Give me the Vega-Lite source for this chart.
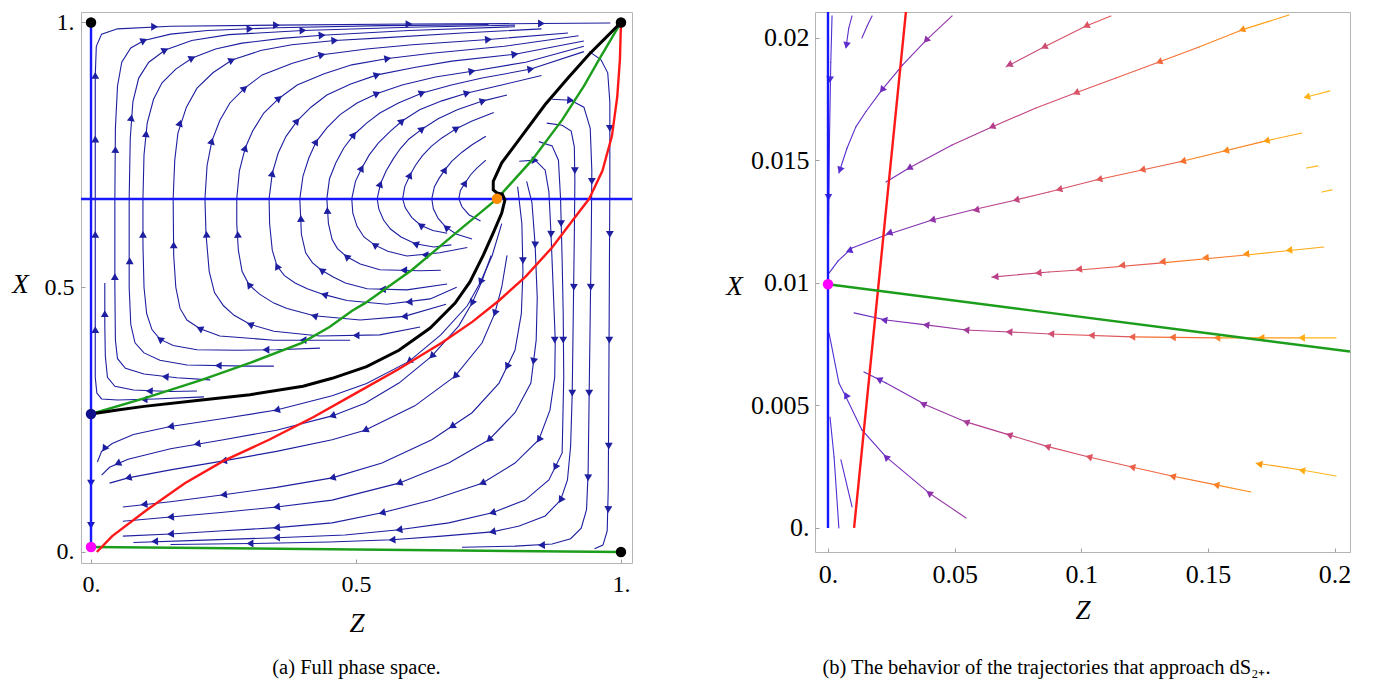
{
"$schema": "https://vega.github.io/schema/vega-lite/v6.json",
"background": "white",
"padding": {"left": 11, "top": 9, "right": 5, "bottom": 5},
"spacing": 92,
"config": {
 "view": {"stroke": "#b4b4b4", "strokeWidth": 1},
 "font": "Liberation Serif",
 "axis": {"grid": false, "domain": false, "tickColor": "#a0a0a0", "tickSize": -4, "labelFont": "Liberation Serif", "labelColor": "#000000", "titleFont": "Liberation Serif", "titleFontStyle": "italic", "titleFontWeight": "normal", "titleColor": "#000000", "titleAngle": 0, "titleAlign": "center", "titleBaseline": "middle"},
 "title": {"font": "Liberation Serif", "fontWeight": "normal", "fontSize": 20.5, "color": "#000000", "orient": "bottom"}
},
"datasets": {
 "sl": [
{"l":"A1","z":0.213,"x":0.293},{"l":"A1","z":0.12,"x":0.289},{"l":"A1","z":0.05,"x":0.287},{"l":"A1","z":0.02,"x":0.289},{"l":"A1","z":0.011,"x":0.3},{"l":"A1","z":0.008,"x":0.33},{"l":"A1","z":0.008,"x":0.5},{"l":"A1","z":0.008,"x":0.7},{"l":"A1","z":0.008,"x":0.9},{"l":"A1","z":0.01,"x":0.955},{"l":"A1","z":0.02,"x":0.978},{"l":"A1","z":0.05,"x":0.988},{"l":"A1","z":0.15,"x":0.993},{"l":"A1","z":0.35,"x":0.995},{"l":"A1","z":0.6,"x":0.997},{"l":"A1","z":0.85,"x":0.998},{"l":"A1","z":0.98,"x":0.999},
{"l":"A2","z":0.2,"x":0.304},{"l":"A2","z":0.149,"x":0.303},{"l":"A2","z":0.08,"x":0.306},{"l":"A2","z":0.045,"x":0.313},{"l":"A2","z":0.031,"x":0.33},{"l":"A2","z":0.027,"x":0.37},{"l":"A2","z":0.026,"x":0.43},{"l":"A2","z":0.026,"x":0.508},
{"l":"A3","z":0.225,"x":0.325},{"l":"A3","z":0.162,"x":0.329},{"l":"A3","z":0.1,"x":0.336},{"l":"A3","z":0.065,"x":0.347},{"l":"A3","z":0.05,"x":0.365},{"l":"A3","z":0.046,"x":0.4},{"l":"A3","z":0.045,"x":0.5},{"l":"A3","z":0.045,"x":0.667},{"l":"A3","z":0.046,"x":0.8},{"l":"A3","z":0.05,"x":0.88},{"l":"A3","z":0.058,"x":0.925},{"l":"A3","z":0.075,"x":0.952},{"l":"A3","z":0.1,"x":0.966},{"l":"A3","z":0.15,"x":0.978},{"l":"A3","z":0.22,"x":0.985},{"l":"A3","z":0.35,"x":0.99},{"l":"A3","z":0.55,"x":0.994},{"l":"A3","z":0.75,"x":0.996},
{"l":"A4","z":0.345,"x":0.351},{"l":"A4","z":0.294,"x":0.351},{"l":"A4","z":0.181,"x":0.353},{"l":"A4","z":0.13,"x":0.362},{"l":"A4","z":0.1,"x":0.376},{"l":"A4","z":0.083,"x":0.395},{"l":"A4","z":0.075,"x":0.43},{"l":"A4","z":0.072,"x":0.5},{"l":"A4","z":0.072,"x":0.667},{"l":"A4","z":0.074,"x":0.78},{"l":"A4","z":0.079,"x":0.85},{"l":"A4","z":0.09,"x":0.895},{"l":"A4","z":0.109,"x":0.925},{"l":"A4","z":0.14,"x":0.948},{"l":"A4","z":0.19,"x":0.966},{"l":"A4","z":0.26,"x":0.977},{"l":"A4","z":0.4,"x":0.985},{"l":"A4","z":0.6,"x":0.991},{"l":"A4","z":0.8,"x":0.995},
{"l":"A5","z":0.432,"x":0.385},{"l":"A5","z":0.35,"x":0.382},{"l":"A5","z":0.275,"x":0.381},{"l":"A5","z":0.2,"x":0.382},{"l":"A5","z":0.155,"x":0.39},{"l":"A5","z":0.13,"x":0.402},{"l":"A5","z":0.115,"x":0.42},{"l":"A5","z":0.105,"x":0.45},{"l":"A5","z":0.1,"x":0.5},{"l":"A5","z":0.098,"x":0.58},{"l":"A5","z":0.098,"x":0.667},{"l":"A5","z":0.1,"x":0.75},{"l":"A5","z":0.106,"x":0.81},{"l":"A5","z":0.118,"x":0.855},{"l":"A5","z":0.134,"x":0.886},{"l":"A5","z":0.16,"x":0.912},{"l":"A5","z":0.191,"x":0.933},{"l":"A5","z":0.235,"x":0.95},{"l":"A5","z":0.285,"x":0.961},{"l":"A5","z":0.36,"x":0.97},{"l":"A5","z":0.436,"x":0.976},{"l":"A5","z":0.6,"x":0.985},{"l":"A5","z":0.8,"x":0.992},
{"l":"A6","z":0.489,"x":0.4},{"l":"A6","z":0.4,"x":0.4},{"l":"A6","z":0.345,"x":0.4},{"l":"A6","z":0.243,"x":0.408},{"l":"A6","z":0.205,"x":0.422},{"l":"A6","z":0.181,"x":0.438},{"l":"A6","z":0.168,"x":0.46},{"l":"A6","z":0.16,"x":0.5},{"l":"A6","z":0.156,"x":0.56},{"l":"A6","z":0.155,"x":0.667},{"l":"A6","z":0.158,"x":0.74},{"l":"A6","z":0.164,"x":0.791},{"l":"A6","z":0.18,"x":0.84},{"l":"A6","z":0.2,"x":0.876},{"l":"A6","z":0.23,"x":0.905},{"l":"A6","z":0.266,"x":0.929},{"l":"A6","z":0.32,"x":0.947},{"l":"A6","z":0.379,"x":0.958},{"l":"A6","z":0.46,"x":0.966},{"l":"A6","z":0.549,"x":0.971},{"l":"A6","z":0.7,"x":0.98},{"l":"A6","z":0.85,"x":0.988},
{"l":"A7","z":0.621,"x":0.425},{"l":"A7","z":0.545,"x":0.41},{"l":"A7","z":0.432,"x":0.408},{"l":"A7","z":0.345,"x":0.417},{"l":"A7","z":0.3,"x":0.43},{"l":"A7","z":0.27,"x":0.447},{"l":"A7","z":0.25,"x":0.465},{"l":"A7","z":0.233,"x":0.49},{"l":"A7","z":0.223,"x":0.53},{"l":"A7","z":0.217,"x":0.6},{"l":"A7","z":0.215,"x":0.667},{"l":"A7","z":0.219,"x":0.73},{"l":"A7","z":0.228,"x":0.776},{"l":"A7","z":0.243,"x":0.815},{"l":"A7","z":0.262,"x":0.848},{"l":"A7","z":0.29,"x":0.876},{"l":"A7","z":0.323,"x":0.901},{"l":"A7","z":0.38,"x":0.923},{"l":"A7","z":0.436,"x":0.939},{"l":"A7","z":0.52,"x":0.95},{"l":"A7","z":0.606,"x":0.958},{"l":"A7","z":0.75,"x":0.968},{"l":"A7","z":0.9,"x":0.98},
{"l":"A8","z":0.67,"x":0.468},{"l":"A8","z":0.591,"x":0.445},{"l":"A8","z":0.508,"x":0.438},{"l":"A8","z":0.421,"x":0.446},{"l":"A8","z":0.37,"x":0.46},{"l":"A8","z":0.345,"x":0.47},{"l":"A8","z":0.318,"x":0.487},{"l":"A8","z":0.298,"x":0.505},{"l":"A8","z":0.285,"x":0.53},{"l":"A8","z":0.278,"x":0.57},{"l":"A8","z":0.275,"x":0.62},{"l":"A8","z":0.275,"x":0.667},{"l":"A8","z":0.28,"x":0.72},{"l":"A8","z":0.291,"x":0.763},{"l":"A8","z":0.305,"x":0.795},{"l":"A8","z":0.326,"x":0.829},{"l":"A8","z":0.355,"x":0.857},{"l":"A8","z":0.389,"x":0.882},{"l":"A8","z":0.44,"x":0.903},{"l":"A8","z":0.492,"x":0.92},{"l":"A8","z":0.56,"x":0.932},{"l":"A8","z":0.643,"x":0.942},{"l":"A8","z":0.78,"x":0.955},{"l":"A8","z":0.92,"x":0.975},
{"l":"A9","z":0.69,"x":0.5},{"l":"A9","z":0.64,"x":0.478},{"l":"A9","z":0.558,"x":0.468},{"l":"A9","z":0.483,"x":0.475},{"l":"A9","z":0.44,"x":0.486},{"l":"A9","z":0.408,"x":0.497},{"l":"A9","z":0.385,"x":0.508},{"l":"A9","z":0.365,"x":0.522},{"l":"A9","z":0.351,"x":0.54},{"l":"A9","z":0.342,"x":0.57},{"l":"A9","z":0.337,"x":0.62},{"l":"A9","z":0.336,"x":0.667},{"l":"A9","z":0.342,"x":0.715},{"l":"A9","z":0.353,"x":0.753},{"l":"A9","z":0.368,"x":0.785},{"l":"A9","z":0.389,"x":0.814},{"l":"A9","z":0.415,"x":0.84},{"l":"A9","z":0.445,"x":0.863},{"l":"A9","z":0.49,"x":0.884},{"l":"A9","z":0.54,"x":0.901},{"l":"A9","z":0.61,"x":0.915},{"l":"A9","z":0.681,"x":0.927},{"l":"A9","z":0.8,"x":0.94},{"l":"A9","z":0.93,"x":0.965},
{"l":"A10","z":0.672,"x":0.506},{"l":"A10","z":0.596,"x":0.495},{"l":"A10","z":0.521,"x":0.497},{"l":"A10","z":0.48,"x":0.508},{"l":"A10","z":0.458,"x":0.519},{"l":"A10","z":0.435,"x":0.532},{"l":"A10","z":0.418,"x":0.546},{"l":"A10","z":0.405,"x":0.565},{"l":"A10","z":0.397,"x":0.6},{"l":"A10","z":0.394,"x":0.667},{"l":"A10","z":0.4,"x":0.71},{"l":"A10","z":0.411,"x":0.744},{"l":"A10","z":0.425,"x":0.775},{"l":"A10","z":0.445,"x":0.801},{"l":"A10","z":0.47,"x":0.826},{"l":"A10","z":0.502,"x":0.848},{"l":"A10","z":0.54,"x":0.866},{"l":"A10","z":0.587,"x":0.882},{"l":"A10","z":0.65,"x":0.897},{"l":"A10","z":0.719,"x":0.908},{"l":"A10","z":0.82,"x":0.925},{"l":"A10","z":0.93,"x":0.955},
{"l":"A11","z":0.66,"x":0.532},{"l":"A11","z":0.621,"x":0.531},{"l":"A11","z":0.545,"x":0.533},{"l":"A11","z":0.508,"x":0.544},{"l":"A11","z":0.482,"x":0.558},{"l":"A11","z":0.465,"x":0.573},{"l":"A11","z":0.455,"x":0.59},{"l":"A11","z":0.448,"x":0.62},{"l":"A11","z":0.445,"x":0.667},{"l":"A11","z":0.45,"x":0.705},{"l":"A11","z":0.462,"x":0.735},{"l":"A11","z":0.477,"x":0.763},{"l":"A11","z":0.496,"x":0.788},{"l":"A11","z":0.52,"x":0.81},{"l":"A11","z":0.545,"x":0.829},{"l":"A11","z":0.58,"x":0.848},{"l":"A11","z":0.625,"x":0.867},{"l":"A11","z":0.68,"x":0.882},{"l":"A11","z":0.738,"x":0.895},{"l":"A11","z":0.83,"x":0.912},{"l":"A11","z":0.93,"x":0.945},
{"l":"A12","z":0.71,"x":0.575},{"l":"A12","z":0.658,"x":0.565},{"l":"A12","z":0.596,"x":0.559},{"l":"A12","z":0.56,"x":0.568},{"l":"A12","z":0.535,"x":0.58},{"l":"A12","z":0.515,"x":0.595},{"l":"A12","z":0.502,"x":0.615},{"l":"A12","z":0.494,"x":0.64},{"l":"A12","z":0.492,"x":0.667},{"l":"A12","z":0.499,"x":0.7},{"l":"A12","z":0.511,"x":0.725},{"l":"A12","z":0.525,"x":0.75},{"l":"A12","z":0.542,"x":0.772},{"l":"A12","z":0.565,"x":0.795},{"l":"A12","z":0.587,"x":0.814},{"l":"A12","z":0.62,"x":0.835},{"l":"A12","z":0.662,"x":0.852},{"l":"A12","z":0.71,"x":0.867},{"l":"A12","z":0.775,"x":0.882},{"l":"A12","z":0.85,"x":0.9},
{"l":"A13","z":0.68,"x":0.58},{"l":"A13","z":0.647,"x":0.576},{"l":"A13","z":0.612,"x":0.582},{"l":"A13","z":0.585,"x":0.595},{"l":"A13","z":0.565,"x":0.61},{"l":"A13","z":0.552,"x":0.627},{"l":"A13","z":0.543,"x":0.648},{"l":"A13","z":0.54,"x":0.667},{"l":"A13","z":0.546,"x":0.695},{"l":"A13","z":0.557,"x":0.72},{"l":"A13","z":0.57,"x":0.742},{"l":"A13","z":0.583,"x":0.761},{"l":"A13","z":0.6,"x":0.78},{"l":"A13","z":0.625,"x":0.799},{"l":"A13","z":0.655,"x":0.818},{"l":"A13","z":0.691,"x":0.835},{"l":"A13","z":0.74,"x":0.852},{"l":"A13","z":0.785,"x":0.863},
{"l":"A14","z":0.672,"x":0.602},{"l":"A14","z":0.645,"x":0.607},{"l":"A14","z":0.622,"x":0.617},{"l":"A14","z":0.605,"x":0.632},{"l":"A14","z":0.593,"x":0.65},{"l":"A14","z":0.588,"x":0.667},{"l":"A14","z":0.592,"x":0.69},{"l":"A14","z":0.602,"x":0.712},{"l":"A14","z":0.612,"x":0.73},{"l":"A14","z":0.625,"x":0.748},{"l":"A14","z":0.642,"x":0.766},{"l":"A14","z":0.662,"x":0.782},{"l":"A14","z":0.69,"x":0.8},{"l":"A14","z":0.719,"x":0.814},{"l":"A14","z":0.76,"x":0.83},
{"l":"A15","z":0.719,"x":0.591},{"l":"A15","z":0.69,"x":0.6},{"l":"A15","z":0.67,"x":0.613},{"l":"A15","z":0.655,"x":0.63},{"l":"A15","z":0.646,"x":0.648},{"l":"A15","z":0.643,"x":0.667},{"l":"A15","z":0.648,"x":0.69},{"l":"A15","z":0.657,"x":0.706},{"l":"A15","z":0.668,"x":0.722},{"l":"A15","z":0.681,"x":0.738},{"l":"A15","z":0.7,"x":0.755},{"l":"A15","z":0.719,"x":0.769},{"l":"A15","z":0.745,"x":0.785},
{"l":"A16","z":0.735,"x":0.625},{"l":"A16","z":0.713,"x":0.637},{"l":"A16","z":0.7,"x":0.652},{"l":"A16","z":0.694,"x":0.667},{"l":"A16","z":0.697,"x":0.683},{"l":"A16","z":0.706,"x":0.697},{"l":"A16","z":0.716,"x":0.712},{"l":"A16","z":0.728,"x":0.725},{"l":"A16","z":0.745,"x":0.74},
{"l":"D0","z":0.94,"x":0.945},{"l":"D0","z":0.962,"x":0.93},{"l":"D0","z":0.975,"x":0.905},{"l":"D0","z":0.979,"x":0.85},{"l":"D0","z":0.979,"x":0.7},{"l":"D0","z":0.978,"x":0.5},{"l":"D0","z":0.977,"x":0.3},{"l":"D0","z":0.976,"x":0.12},{"l":"D0","z":0.974,"x":0.04},{"l":"D0","z":0.966,"x":0.013},{"l":"D0","z":0.95,"x":0.006},
{"l":"D1","z":0.87,"x":0.855},{"l":"D1","z":0.905,"x":0.853},{"l":"D1","z":0.93,"x":0.84},{"l":"D1","z":0.942,"x":0.8},{"l":"D1","z":0.945,"x":0.72},{"l":"D1","z":0.944,"x":0.6},{"l":"D1","z":0.942,"x":0.45},{"l":"D1","z":0.94,"x":0.3},{"l":"D1","z":0.938,"x":0.15},{"l":"D1","z":0.935,"x":0.08},{"l":"D1","z":0.925,"x":0.045},{"l":"D1","z":0.905,"x":0.025},{"l":"D1","z":0.87,"x":0.015},{"l":"D1","z":0.8,"x":0.011},{"l":"D1","z":0.7,"x":0.009},
{"l":"D2","z":0.86,"x":0.81},{"l":"D2","z":0.889,"x":0.806},{"l":"D2","z":0.906,"x":0.795},{"l":"D2","z":0.912,"x":0.765},{"l":"D2","z":0.913,"x":0.7},{"l":"D2","z":0.912,"x":0.6},{"l":"D2","z":0.91,"x":0.45},{"l":"D2","z":0.908,"x":0.3},{"l":"D2","z":0.905,"x":0.2},{"l":"D2","z":0.899,"x":0.136},{"l":"D2","z":0.886,"x":0.098},{"l":"D2","z":0.857,"x":0.068},{"l":"D2","z":0.808,"x":0.049},{"l":"D2","z":0.757,"x":0.038},{"l":"D2","z":0.662,"x":0.03},{"l":"D2","z":0.568,"x":0.023},{"l":"D2","z":0.45,"x":0.019},{"l":"D2","z":0.3,"x":0.016},{"l":"D2","z":0.15,"x":0.014},
{"l":"D3","z":0.845,"x":0.775},{"l":"D3","z":0.87,"x":0.767},{"l":"D3","z":0.882,"x":0.74},{"l":"D3","z":0.886,"x":0.667},{"l":"D3","z":0.889,"x":0.55},{"l":"D3","z":0.891,"x":0.45},{"l":"D3","z":0.892,"x":0.33},{"l":"D3","z":0.889,"x":0.187},{"l":"D3","z":0.864,"x":0.136},{"l":"D3","z":0.819,"x":0.098},{"l":"D3","z":0.757,"x":0.074},{"l":"D3","z":0.675,"x":0.055},{"l":"D3","z":0.581,"x":0.042},{"l":"D3","z":0.479,"x":0.032},{"l":"D3","z":0.35,"x":0.027},{"l":"D3","z":0.2,"x":0.022},{"l":"D3","z":0.08,"x":0.018},
{"l":"D4","z":0.808,"x":0.738},{"l":"D4","z":0.838,"x":0.74},{"l":"D4","z":0.857,"x":0.721},{"l":"D4","z":0.864,"x":0.68},{"l":"D4","z":0.868,"x":0.6},{"l":"D4","z":0.872,"x":0.5},{"l":"D4","z":0.876,"x":0.4},{"l":"D4","z":0.875,"x":0.33},{"l":"D4","z":0.866,"x":0.268},{"l":"D4","z":0.845,"x":0.212},{"l":"D4","z":0.8,"x":0.168},{"l":"D4","z":0.738,"x":0.13},{"l":"D4","z":0.643,"x":0.098},{"l":"D4","z":0.549,"x":0.074},{"l":"D4","z":0.455,"x":0.055},{"l":"D4","z":0.35,"x":0.046},{"l":"D4","z":0.25,"x":0.04},{"l":"D4","z":0.15,"x":0.034},{"l":"D4","z":0.06,"x":0.03},
{"l":"D5","z":0.822,"x":0.7},{"l":"D5","z":0.832,"x":0.66},{"l":"D5","z":0.838,"x":0.58},{"l":"D5","z":0.842,"x":0.48},{"l":"D5","z":0.84,"x":0.4},{"l":"D5","z":0.83,"x":0.319},{"l":"D5","z":0.8,"x":0.263},{"l":"D5","z":0.751,"x":0.212},{"l":"D5","z":0.675,"x":0.168},{"l":"D5","z":0.581,"x":0.13},{"l":"D5","z":0.455,"x":0.098},{"l":"D5","z":0.35,"x":0.085},{"l":"D5","z":0.25,"x":0.075},{"l":"D5","z":0.15,"x":0.066},{"l":"D5","z":0.06,"x":0.058},
{"l":"D6","z":0.805,"x":0.69},{"l":"D6","z":0.813,"x":0.62},{"l":"D6","z":0.815,"x":0.53},{"l":"D6","z":0.812,"x":0.45},{"l":"D6","z":0.8,"x":0.381},{"l":"D6","z":0.77,"x":0.319},{"l":"D6","z":0.719,"x":0.263},{"l":"D6","z":0.643,"x":0.212},{"l":"D6","z":0.549,"x":0.168},{"l":"D6","z":0.455,"x":0.14},{"l":"D6","z":0.35,"x":0.122},{"l":"D6","z":0.25,"x":0.108},{"l":"D6","z":0.15,"x":0.095},{"l":"D6","z":0.06,"x":0.085},
{"l":"D7","z":0.785,"x":0.56},{"l":"D7","z":0.775,"x":0.5},{"l":"D7","z":0.762,"x":0.451},{"l":"D7","z":0.738,"x":0.395},{"l":"D7","z":0.687,"x":0.332},{"l":"D7","z":0.611,"x":0.276},{"l":"D7","z":0.517,"x":0.23},{"l":"D7","z":0.455,"x":0.212},{"l":"D7","z":0.35,"x":0.19},{"l":"D7","z":0.25,"x":0.172},{"l":"D7","z":0.15,"x":0.155},{"l":"D7","z":0.07,"x":0.14},{"l":"D7","z":0.035,"x":0.13},
{"l":"D8","z":0.755,"x":0.56},{"l":"D8","z":0.737,"x":0.51},{"l":"D8","z":0.719,"x":0.47},{"l":"D8","z":0.694,"x":0.427},{"l":"D8","z":0.643,"x":0.37},{"l":"D8","z":0.581,"x":0.319},{"l":"D8","z":0.517,"x":0.281},{"l":"D8","z":0.455,"x":0.257},{"l":"D8","z":0.35,"x":0.23},{"l":"D8","z":0.25,"x":0.212},{"l":"D8","z":0.15,"x":0.195},{"l":"D8","z":0.07,"x":0.175},{"l":"D8","z":0.035,"x":0.16},{"l":"D8","z":0.02,"x":0.145},
{"l":"D9","z":0.775,"x":0.62},{"l":"D9","z":0.757,"x":0.56},{"l":"D9","z":0.735,"x":0.51},{"l":"D9","z":0.71,"x":0.465},{"l":"D9","z":0.66,"x":0.41},{"l":"D9","z":0.6,"x":0.36},{"l":"D9","z":0.52,"x":0.318},{"l":"D9","z":0.455,"x":0.295},{"l":"D9","z":0.35,"x":0.268},{"l":"D9","z":0.25,"x":0.252},{"l":"D9","z":0.15,"x":0.237},{"l":"D9","z":0.08,"x":0.222},{"l":"D9","z":0.04,"x":0.205},{"l":"D9","z":0.02,"x":0.19},{"l":"D9","z":0.012,"x":0.17}
 ],
 "ar": [
{"z":0.1,"x":0.288,"d":178},{"z":0.008,"x":0.42,"d":270},{"z":0.008,"x":0.6,"d":270},{"z":0.008,"x":0.78,"d":270},{"z":0.008,"x":0.9,"d":270},{"z":0.12,"x":0.992,"d":0},{"z":0.35,"x":0.995,"d":0},{"z":0.6,"x":0.997,"d":0},{"z":0.85,"x":0.998,"d":0},
{"z":0.11,"x":0.304,"d":182},{"z":0.026,"x":0.45,"d":270},
{"z":0.14,"x":0.331,"d":184},{"z":0.045,"x":0.52,"d":270},{"z":0.046,"x":0.76,"d":272},{"z":0.1,"x":0.966,"d":335},{"z":0.3,"x":0.988,"d":358},
{"z":0.24,"x":0.352,"d":180},{"z":0.073,"x":0.55,"d":270},{"z":0.076,"x":0.82,"d":278},{"z":0.14,"x":0.948,"d":333},{"z":0.4,"x":0.985,"d":357},
{"z":0.33,"x":0.382,"d":180},{"z":0.13,"x":0.402,"d":217},{"z":0.098,"x":0.6,"d":270},{"z":0.104,"x":0.79,"d":276},{"z":0.191,"x":0.933,"d":333},{"z":0.436,"x":0.976,"d":355},
{"z":0.4,"x":0.4,"d":180},{"z":0.205,"x":0.422,"d":206},{"z":0.156,"x":0.58,"d":270},{"z":0.168,"x":0.81,"d":288},{"z":0.266,"x":0.929,"d":335},{"z":0.46,"x":0.966,"d":355},
{"z":0.5,"x":0.409,"d":180},{"z":0.3,"x":0.43,"d":202},{"z":0.218,"x":0.6,"d":268},{"z":0.228,"x":0.776,"d":286},{"z":0.29,"x":0.876,"d":319},{"z":0.436,"x":0.939,"d":345},{"z":0.75,"x":0.968,"d":355},
{"z":0.591,"x":0.445,"d":175},{"z":0.421,"x":0.446,"d":195},{"z":0.298,"x":0.505,"d":232},{"z":0.277,"x":0.6,"d":267},{"z":0.291,"x":0.763,"d":288},{"z":0.355,"x":0.857,"d":322},{"z":0.56,"x":0.932,"d":350},
{"z":0.6,"x":0.472,"d":175},{"z":0.44,"x":0.486,"d":196},{"z":0.351,"x":0.54,"d":244},{"z":0.342,"x":0.715,"d":280},{"z":0.389,"x":0.814,"d":310},{"z":0.54,"x":0.901,"d":340},{"z":0.8,"x":0.94,"d":352},
{"z":0.55,"x":0.496,"d":180},{"z":0.435,"x":0.532,"d":215},{"z":0.396,"x":0.63,"d":268},{"z":0.425,"x":0.775,"d":301},{"z":0.54,"x":0.866,"d":335},{"z":0.719,"x":0.908,"d":350},
{"z":0.59,"x":0.532,"d":180},{"z":0.482,"x":0.558,"d":220},{"z":0.446,"x":0.645,"d":267},{"z":0.496,"x":0.788,"d":307},{"z":0.625,"x":0.867,"d":337},{"z":0.83,"x":0.912,"d":350},
{"z":0.63,"x":0.561,"d":183},{"z":0.535,"x":0.58,"d":215},{"z":0.511,"x":0.725,"d":298},{"z":0.587,"x":0.814,"d":318},{"z":0.71,"x":0.867,"d":343},
{"z":0.612,"x":0.582,"d":200},{"z":0.546,"x":0.695,"d":290},{"z":0.625,"x":0.799,"d":322},{"z":0.74,"x":0.852,"d":342},
{"z":0.622,"x":0.617,"d":215},{"z":0.602,"x":0.712,"d":295},{"z":0.69,"x":0.8,"d":328},
{"z":0.67,"x":0.613,"d":220},{"z":0.668,"x":0.722,"d":300},
{"z":0.706,"x":0.697,"d":300},
{"z":0.979,"x":0.8,"d":90},{"z":0.979,"x":0.6,"d":90},{"z":0.978,"x":0.4,"d":90},{"z":0.977,"x":0.2,"d":90},{"z":0.976,"x":0.08,"d":92},
{"z":0.905,"x":0.853,"d":5},{"z":0.945,"x":0.7,"d":90},{"z":0.943,"x":0.5,"d":91},{"z":0.94,"x":0.3,"d":91},{"z":0.938,"x":0.14,"d":92},{"z":0.85,"x":0.013,"d":178},
{"z":0.913,"x":0.72,"d":90},{"z":0.911,"x":0.5,"d":91},{"z":0.908,"x":0.3,"d":91},{"z":0.886,"x":0.098,"d":122},{"z":0.757,"x":0.038,"d":168},{"z":0.568,"x":0.023,"d":176},{"z":0.3,"x":0.016,"d":179},
{"z":0.887,"x":0.62,"d":90},{"z":0.891,"x":0.4,"d":90},{"z":0.876,"x":0.16,"d":116},{"z":0.757,"x":0.074,"d":163},{"z":0.581,"x":0.042,"d":172},{"z":0.35,"x":0.027,"d":177},{"z":0.12,"x":0.02,"d":178},
{"z":0.838,"x":0.74,"d":0},{"z":0.868,"x":0.6,"d":92},{"z":0.875,"x":0.4,"d":90},{"z":0.845,"x":0.212,"d":123},{"z":0.738,"x":0.13,"d":156},{"z":0.549,"x":0.074,"d":166},{"z":0.35,"x":0.046,"d":174},{"z":0.15,"x":0.034,"d":177},
{"z":0.838,"x":0.58,"d":93},{"z":0.835,"x":0.36,"d":100},{"z":0.751,"x":0.212,"d":137},{"z":0.581,"x":0.13,"d":158},{"z":0.35,"x":0.085,"d":172},{"z":0.15,"x":0.066,"d":175},
{"z":0.815,"x":0.55,"d":90},{"z":0.785,"x":0.35,"d":117},{"z":0.681,"x":0.237,"d":147},{"z":0.455,"x":0.14,"d":165},{"z":0.25,"x":0.108,"d":172},{"z":0.1,"x":0.09,"d":174},
{"z":0.762,"x":0.451,"d":108},{"z":0.687,"x":0.332,"d":133},{"z":0.517,"x":0.23,"d":155},{"z":0.25,"x":0.172,"d":170},{"z":0.07,"x":0.14,"d":165},
{"z":0.719,"x":0.47,"d":115},{"z":0.643,"x":0.37,"d":135},{"z":0.455,"x":0.257,"d":160},{"z":0.2,"x":0.204,"d":170},{"z":0.05,"x":0.167,"d":155},
{"z":0.735,"x":0.51,"d":115},{"z":0.6,"x":0.36,"d":143},{"z":0.35,"x":0.268,"d":166},{"z":0.15,"x":0.237,"d":172},{"z":0.025,"x":0.195,"d":125},
{"z":0,"x":0.13,"d":90},{"z":0,"x":0.05,"d":90}
 ],
 "sp": [
{"k":"b1","z":0,"x":0.0094},{"k":"b1","z":0,"x":1},
{"k":"b2","z":-0.0189,"x":0.6667},{"k":"b2","z":1.0208,"x":0.6667},
{"k":"g1","z":0,"x":0.2606},{"k":"g1","z":0.1,"x":0.29},{"k":"g1","z":0.209,"x":0.325},{"k":"g1","z":0.3,"x":0.357},{"k":"g1","z":0.398,"x":0.395},{"k":"g1","z":0.45,"x":0.425},{"k":"g1","z":0.492,"x":0.455},{"k":"g1","z":0.517,"x":0.47},{"k":"g1","z":0.606,"x":0.533},{"k":"g1","z":0.7,"x":0.612},{"k":"g1","z":0.766,"x":0.667},{"k":"g1","z":0.832,"x":0.74},{"k":"g1","z":0.889,"x":0.816},{"k":"g1","z":0.93,"x":0.88},{"k":"g1","z":0.958,"x":0.929},{"k":"g1","z":1,"x":1},
{"k":"g2","z":0,"x":0.0094},{"k":"g2","z":1,"x":0},
{"k":"r","z":0.011,"x":0},{"k":"r","z":0.04,"x":0.03},{"k":"r","z":0.102,"x":0.077},{"k":"r","z":0.177,"x":0.13},{"k":"r","z":0.25,"x":0.172},{"k":"r","z":0.336,"x":0.212},{"k":"r","z":0.42,"x":0.255},{"k":"r","z":0.5,"x":0.3},{"k":"r","z":0.58,"x":0.345},{"k":"r","z":0.662,"x":0.395},{"k":"r","z":0.72,"x":0.435},{"k":"r","z":0.77,"x":0.475},{"k":"r","z":0.82,"x":0.52},{"k":"r","z":0.87,"x":0.575},{"k":"r","z":0.91,"x":0.628},{"k":"r","z":0.94,"x":0.667},{"k":"r","z":0.965,"x":0.72},{"k":"r","z":0.983,"x":0.786},{"k":"r","z":0.993,"x":0.86},{"k":"r","z":0.998,"x":0.93},{"k":"r","z":1,"x":1}
 ],
 "bk": [
{"z":0,"x":0.2606},{"z":0.05,"x":0.268},{"z":0.1,"x":0.275},{"z":0.2,"x":0.286},{"z":0.3,"x":0.297},{"z":0.4,"x":0.313},{"z":0.455,"x":0.328},{"z":0.52,"x":0.35},{"z":0.581,"x":0.381},{"z":0.64,"x":0.423},{"z":0.687,"x":0.47},{"z":0.715,"x":0.51},{"z":0.74,"x":0.56},{"z":0.76,"x":0.605},{"z":0.775,"x":0.64},{"z":0.781,"x":0.665},{"z":0.776,"x":0.676},{"z":0.766,"x":0.678},{"z":0.759,"x":0.684},{"z":0.759,"x":0.7},{"z":0.775,"x":0.735},{"z":0.813,"x":0.786},{"z":0.857,"x":0.845},{"z":0.9,"x":0.895},{"z":0.94,"x":0.94},{"z":0.97,"x":0.97},{"z":1,"x":1}
 ],
 "eq": [
{"p":"k1","z":0,"x":1},{"p":"k1","z":1,"x":1},{"p":"k1","z":1,"x":0},{"p":"nv","z":0,"x":0.2606},{"p":"or","z":0.766,"x":0.667},{"p":"mg","z":0,"x":0.0094}
 ],
 "rs": [
{"z":0.0016,"x":0.0209,"z2":0.0011,"x2":0.019,"s":0.002},{"z":0.0011,"x":0.019,"z2":0.0006,"x2":0.016,"s":0.002},{"z":0.0006,"x":0.016,"z2":0.0003,"x2":0.013,"s":0.001},{"z":0.0003,"x":0.013,"z2":0.0001,"x2":0.0105,"s":0.001},
{"z":0.0095,"x":0.0209,"z2":0.0082,"x2":0.0204,"s":0.012},{"z":0.0082,"x":0.0204,"z2":0.0071,"x2":0.0196,"s":0.01},
{"z":0.0174,"x":0.0209,"z2":0.0155,"x2":0.0205,"s":0.018},{"z":0.0155,"x":0.0205,"z2":0.0134,"x2":0.02,"s":0.016},
{"z":0.049,"x":0.0209,"z2":0.0387,"x2":0.0199,"s":0.044},{"z":0.0387,"x":0.0199,"z2":0.0295,"x2":0.0189,"s":0.034},{"z":0.0295,"x":0.0189,"z2":0.0213,"x2":0.01788,"s":0.026},{"z":0.0213,"x":0.01788,"z2":0.015,"x2":0.017,"s":0.018},{"z":0.015,"x":0.017,"z2":0.011,"x2":0.01637,"s":0.013},{"z":0.011,"x":0.01637,"z2":0.0075,"x2":0.0155,"s":0.009},{"z":0.0075,"x":0.0155,"z2":0.0043,"x2":0.01449,"s":0.006},
{"z":0.182,"x":0.02094,"z2":0.1634,"x2":0.02033,"s":0.172},{"z":0.1634,"x":0.02033,"z2":0.1465,"x2":0.01963,"s":0.155},{"z":0.1465,"x":0.01963,"z2":0.1307,"x2":0.01902,"s":0.139},{"z":0.1307,"x":0.01902,"z2":0.1137,"x2":0.01837,"s":0.122},{"z":0.1137,"x":0.01837,"z2":0.0979,"x2":0.01776,"s":0.106},{"z":0.0979,"x":0.01776,"z2":0.0821,"x2":0.01714,"s":0.09},{"z":0.0821,"x":0.01714,"z2":0.0647,"x2":0.01637,"s":0.073},{"z":0.0647,"x":0.01637,"z2":0.049,"x2":0.01563,"s":0.057},{"z":0.049,"x":0.01563,"z2":0.032,"x2":0.01469,"s":0.04},{"z":0.032,"x":0.01469,"z2":0.0229,"x2":0.01412,"s":0.027},
{"z":0.1117,"x":0.0209,"z2":0.1019,"x2":0.02049,"s":0.107},{"z":0.1019,"x":0.02049,"z2":0.0853,"x2":0.01963,"s":0.094},{"z":0.0853,"x":0.01963,"z2":0.0703,"x2":0.01882,"s":0.078},
{"z":0.1958,"x":0.01147,"z2":0.165,"x2":0.01114,"s":0.18},{"z":0.165,"x":0.01114,"z2":0.1319,"x2":0.01082,"s":0.148},{"z":0.1319,"x":0.01082,"z2":0.0991,"x2":0.01053,"s":0.115},{"z":0.0991,"x":0.01053,"z2":0.0872,"x2":0.01045,"s":0.093},{"z":0.0872,"x":0.01045,"z2":0.0647,"x2":0.01024,"s":0.076},
{"z":0.1871,"x":0.01612,"z2":0.1713,"x2":0.01576,"s":0.179},{"z":0.1713,"x":0.01576,"z2":0.1386,"x2":0.01494,"s":0.155},{"z":0.1386,"x":0.01494,"z2":0.1058,"x2":0.0142,"s":0.122},{"z":0.1058,"x":0.0142,"z2":0.0872,"x2":0.01371,"s":0.096},{"z":0.0872,"x":0.01371,"z2":0.0742,"x2":0.01339,"s":0.081},{"z":0.0742,"x":0.01339,"z2":0.0569,"x2":0.01298,"s":0.066},{"z":0.0569,"x":0.01298,"z2":0.0411,"x2":0.01257,"s":0.049},{"z":0.0411,"x":0.01257,"z2":0.0229,"x2":0.01196,"s":0.032},{"z":0.0229,"x":0.01196,"z2":0.0095,"x2":0.01143,"s":0.016},{"z":0.0095,"x":0.01143,"z2":0.004,"x2":0.0109,"s":0.007},{"z":0.004,"x":0.0109,"z2":0.0004,"x2":0.0104,"s":0.002},
{"z":0.2006,"x":0.00776,"z2":0.1871,"x2":0.00776,"s":0.194},{"z":0.1871,"x":0.00776,"z2":0.1536,"x2":0.00776,"s":0.17},{"z":0.1536,"x":0.00776,"z2":0.12,"x2":0.0078,"s":0.137},{"z":0.12,"x":0.0078,"z2":0.088,"x2":0.00792,"s":0.104},{"z":0.088,"x":0.00792,"z2":0.0715,"x2":0.008,"s":0.08},{"z":0.0715,"x":0.008,"z2":0.0545,"x2":0.00808,"s":0.063},{"z":0.0545,"x":0.00808,"z2":0.0387,"x2":0.00829,"s":0.047},{"z":0.0387,"x":0.00829,"z2":0.0229,"x2":0.00849,"s":0.031},{"z":0.0229,"x":0.00849,"z2":0.0103,"x2":0.00878,"s":0.017},
{"z":0.167,"x":0.00147,"z2":0.1532,"x2":0.00176,"s":0.16},{"z":0.1532,"x":0.00176,"z2":0.1358,"x2":0.00212,"s":0.145},{"z":0.1358,"x":0.00212,"z2":0.12,"x2":0.00249,"s":0.128},{"z":0.12,"x":0.00249,"z2":0.103,"x2":0.0029,"s":0.111},{"z":0.103,"x":0.0029,"z2":0.0872,"x2":0.00331,"s":0.095},{"z":0.0872,"x":0.00331,"z2":0.0715,"x2":0.0038,"s":0.079},{"z":0.0715,"x":0.0038,"z2":0.0545,"x2":0.00433,"s":0.063},{"z":0.0545,"x":0.00433,"z2":0.0387,"x2":0.00502,"s":0.047},{"z":0.0387,"x":0.00502,"z2":0.0229,"x2":0.00592,"s":0.031},{"z":0.0229,"x":0.00592,"z2":0.0142,"x2":0.00637,"s":0.019},
{"z":0.2006,"x":0.00212,"z2":0.1871,"x2":0.00237,"s":0.194},{"z":0.1871,"x":0.00237,"z2":0.169,"x2":0.00265,"s":0.178},
{"z":0.0545,"x":0.00041,"z2":0.0399,"x2":0.00143,"s":0.047},{"z":0.0399,"x":0.00143,"z2":0.0229,"x2":0.0029,"s":0.031},{"z":0.0229,"x":0.0029,"z2":0.0134,"x2":0.004,"s":0.018},{"z":0.0134,"x":0.004,"z2":0.0071,"x2":0.00535,"s":0.01},{"z":0.0071,"x":0.00535,"z2":0.0043,"x2":0.00592,"s":0.006},{"z":0.0043,"x":0.00592,"z2":0.0004,"x2":0.00796,"s":0.002},
{"z":0.0043,"x":0,"z2":0.0024,"x2":0.0029,"s":0.003},{"z":0.0024,"x":0.0029,"z2":0.0008,"x2":0.00453,"s":0.002},
{"z":0.0095,"x":0.00086,"z2":0.0051,"x2":0.00278,"s":0.007},
{"z":0.1982,"x":0.01784,"z2":0.189,"x2":0.01759,"s":0.194},
{"z":0.1934,"x":0.01478,"z2":0.189,"x2":0.01469,"s":0.191},
{"z":0.199,"x":0.0138,"z2":0.195,"x2":0.01371,"s":0.197}
 ],
 "ra": [
{"z":0.0008,"x":0.0183,"d":92,"s":0.001},{"z":0.0002,"x":0.0135,"d":90,"s":0.001},
{"z":0.0073,"x":0.0197,"d":100,"s":0.01},
{"z":0.0387,"x":0.0199,"d":133,"s":0.04},{"z":0.0213,"x":0.01788,"d":129,"s":0.022},{"z":0.0047,"x":0.01461,"d":110,"s":0.006},
{"z":0.1634,"x":0.02033,"d":160,"s":0.163},{"z":0.1307,"x":0.01902,"d":158,"s":0.13},{"z":0.0979,"x":0.01776,"d":157,"s":0.098},{"z":0.0647,"x":0.01637,"d":156,"s":0.065},{"z":0.032,"x":0.01469,"d":151,"s":0.032},
{"z":0.1019,"x":0.02049,"d":154,"s":0.1},{"z":0.0853,"x":0.01963,"d":154,"s":0.085},{"z":0.0715,"x":0.0189,"d":154,"s":0.071},
{"z":0.066,"x":0.01025,"d":175,"s":0.066},{"z":0.083,"x":0.01041,"d":175,"s":0.083},{"z":0.099,"x":0.01056,"d":175,"s":0.099},{"z":0.116,"x":0.01072,"d":175,"s":0.116},{"z":0.132,"x":0.01087,"d":175,"s":0.132},{"z":0.149,"x":0.01103,"d":175,"s":0.149},{"z":0.165,"x":0.01118,"d":175,"s":0.165},{"z":0.182,"x":0.01134,"d":175,"s":0.182},
{"z":0.0083,"x":0.01131,"d":158,"s":0.008},{"z":0.0241,"x":0.01204,"d":163,"s":0.024},{"z":0.0411,"x":0.01257,"d":166,"s":0.041},{"z":0.0584,"x":0.01298,"d":167,"s":0.058},{"z":0.0742,"x":0.01339,"d":167,"s":0.074},{"z":0.0912,"x":0.01382,"d":167,"s":0.091},{"z":0.107,"x":0.01423,"d":167,"s":0.107},{"z":0.124,"x":0.01462,"d":167,"s":0.124},{"z":0.14,"x":0.01497,"d":167,"s":0.14},{"z":0.157,"x":0.0154,"d":167,"s":0.157},{"z":0.173,"x":0.0158,"d":167,"s":0.173},
{"z":0.0221,"x":0.00849,"d":189,"s":0.022},{"z":0.0387,"x":0.00829,"d":187,"s":0.039},{"z":0.0545,"x":0.00808,"d":185,"s":0.055},{"z":0.0715,"x":0.008,"d":183,"s":0.072},{"z":0.088,"x":0.00792,"d":182,"s":0.088},{"z":0.104,"x":0.00786,"d":181,"s":0.104},{"z":0.12,"x":0.0078,"d":181,"s":0.12},{"z":0.136,"x":0.00778,"d":180,"s":0.136},{"z":0.1536,"x":0.00776,"d":180,"s":0.154},{"z":0.171,"x":0.00776,"d":180,"s":0.171},{"z":0.187,"x":0.00776,"d":180,"s":0.187},
{"z":0.0201,"x":0.00607,"d":207,"s":0.02},{"z":0.0375,"x":0.00507,"d":205,"s":0.038},{"z":0.0545,"x":0.00433,"d":200,"s":0.055},{"z":0.0715,"x":0.0038,"d":198,"s":0.072},{"z":0.0865,"x":0.00333,"d":196,"s":0.087},{"z":0.103,"x":0.0029,"d":195,"s":0.103},{"z":0.12,"x":0.00249,"d":193,"s":0.12},{"z":0.136,"x":0.00211,"d":192,"s":0.136},{"z":0.1532,"x":0.00176,"d":191,"s":0.153},
{"z":0.1702,"x":0.00261,"d":190,"s":0.17},{"z":0.1871,"x":0.00235,"d":190,"s":0.187},
{"z":0.0399,"x":0.00143,"d":217,"s":0.04},{"z":0.0229,"x":0.0029,"d":223,"s":0.023},{"z":0.0071,"x":0.00543,"d":244,"s":0.007},
{"z":0.189,"x":0.01759,"d":165,"s":0.19}
 ],
 "rsp": [
{"k":"b1","z":0,"x":0},{"k":"b1","z":0,"x":0.0215},
{"k":"r","z":0.0103,"x":0},{"k":"r","z":0.0308,"x":0.0211},
{"k":"g1","z":0,"x":0.00995},{"k":"g1","z":0.08,"x":0.00888},{"k":"g1","z":0.15,"x":0.00795},{"k":"g1","z":0.2061,"x":0.0072}
 ],
 "req": [{"p":"mg","z":0,"x":0.00995}]
},
"hconcat": [
 {
  "width": 551, "height": 551,
  "title": {"text": "(a) Full phase space.", "orient": "bottom", "offset": 22},
  "layer": [
   {"data": {"name": "sl"}, "mark": {"type": "line", "color": "#1e1ea0", "strokeWidth": 1.1, "clip": true},
    "encoding": {
     "x": {"field": "z", "type": "quantitative", "scale": {"domain": [-0.0189, 1.0208], "nice": false, "zero": false},
       "axis": {"title": "Z", "values": [0, 0.5, 1], "labelExpr": "datum.value == 0 ? '0.' : datum.value == 1 ? '1.' : datum.label", "labelFont": "Liberation Serif", "labelFontSize": 24, "labelPadding": 13, "titleFontSize": 27, "titleY": 60}},
     "y": {"field": "x", "type": "quantitative", "scale": {"domain": [-0.0208, 1.0198], "nice": false, "zero": false},
       "axis": {"title": "X", "values": [0, 0.5, 1], "labelExpr": "datum.value == 0 ? '0.' : datum.value == 1 ? '1.' : datum.label", "labelFont": "Liberation Serif", "labelFontSize": 24, "labelPadding": 11, "titleFontSize": 27, "titleX": -61, "titleY": 272}},
     "detail": {"field": "l"},
     "order": {"value": null}}},
   {"data": {"name": "ar"}, "mark": {"type": "point", "shape": "triangle-right", "filled": true, "color": "#1e1ea0", "size": 62, "opacity": 1, "clip": true},
    "encoding": {"x": {"field": "z", "type": "quantitative"}, "y": {"field": "x", "type": "quantitative"}, "angle": {"field": "d", "type": "quantitative", "scale": null}}},
   {"data": {"name": "sp"}, "mark": {"type": "line", "strokeWidth": 2.4, "clip": true},
    "encoding": {"x": {"field": "z", "type": "quantitative"}, "y": {"field": "x", "type": "quantitative"},
     "color": {"field": "k", "type": "nominal", "legend": null, "scale": {"domain": ["b1", "b2", "g1", "g2", "r", "k1", "nv", "or", "mg"], "range": ["#1818ff", "#1818ff", "#1c9e1c", "#1c9e1c", "#ff1818", "#000000", "#10108c", "#ff8c00", "#ff00ff"]}},
     "order": {"value": null}}},
   {"data": {"name": "bk"}, "mark": {"type": "line", "strokeWidth": 3, "color": "#000000", "clip": true},
    "encoding": {"x": {"field": "z", "type": "quantitative"}, "y": {"field": "x", "type": "quantitative"}, "order": {"value": null}}},
   {"data": {"name": "eq"}, "mark": {"type": "point", "shape": "circle", "filled": true, "size": 110, "opacity": 1},
    "encoding": {"x": {"field": "z", "type": "quantitative"}, "y": {"field": "x", "type": "quantitative"},
     "color": {"field": "p", "type": "nominal", "legend": null}}}
  ]
 },
 {
  "width": 535, "height": 540,
  "title": {"text": "(b) The behavior of the trajectories that approach dS₂₊.", "orient": "bottom", "offset": 35, "dx": -36},
  "resolve": {"scale": {"color": "independent"}},
  "layer": [
   {"data": {"name": "rs"}, "mark": {"type": "rule", "strokeWidth": 1.1, "strokeCap": "round", "clip": true},
    "encoding": {
     "x": {"field": "z", "type": "quantitative", "scale": {"domain": [-0.00513, 0.2061], "nice": false, "zero": false},
       "axis": {"title": "Z", "values": [0, 0.05, 0.1, 0.15, 0.2], "format": "~g", "labelExpr": "datum.value == 0 ? '0.' : datum.label", "labelFont": "Liberation Serif", "labelFontSize": 26, "labelPadding": 13, "titleFontSize": 27, "titleY": 58}},
     "y": {"field": "x", "type": "quantitative", "scale": {"domain": [-0.00098, 0.02106], "nice": false, "zero": false},
       "axis": {"title": "X", "values": [0, 0.005, 0.01, 0.015, 0.02], "format": "~g", "labelExpr": "datum.value == 0 ? '0.' : datum.label", "labelFont": "Liberation Serif", "labelFontSize": 26, "labelPadding": 10, "titleFontSize": 27, "titleX": -81, "titleY": 274}},
     "x2": {"field": "z2"}, "y2": {"field": "x2"},
     "color": {"field": "s", "type": "quantitative", "legend": null, "scale": {"domain": [0, 0.02, 0.05, 0.08, 0.11, 0.14, 0.17, 0.2], "range": ["#4a2fd6", "#6a2cc0", "#9a3aa0", "#c84c78", "#e25a55", "#f5702e", "#ff9a10", "#ffbe1e"]}}}},
   {"data": {"name": "ra"}, "mark": {"type": "point", "shape": "triangle-right", "filled": true, "size": 58, "opacity": 1, "clip": true},
    "encoding": {"x": {"field": "z", "type": "quantitative"}, "y": {"field": "x", "type": "quantitative"}, "angle": {"field": "d", "type": "quantitative", "scale": null},
     "color": {"field": "s", "type": "quantitative", "legend": null, "scale": {"domain": [0, 0.02, 0.05, 0.08, 0.11, 0.14, 0.17, 0.2], "range": ["#4a2fd6", "#6a2cc0", "#9a3aa0", "#c84c78", "#e25a55", "#f5702e", "#ff9a10", "#ffbe1e"]}}}},
   {"data": {"name": "rsp"}, "mark": {"type": "line", "strokeWidth": 2.4, "clip": true},
    "encoding": {"x": {"field": "z", "type": "quantitative"}, "y": {"field": "x", "type": "quantitative"},
     "color": {"field": "k", "type": "nominal", "legend": null, "scale": {"domain": ["b1", "r", "g1", "mg"], "range": ["#1818ff", "#ff1818", "#1c9e1c", "#ff00ff"]}},
     "order": {"value": null}}},
   {"data": {"name": "req"}, "mark": {"type": "point", "shape": "circle", "filled": true, "size": 110, "opacity": 1, "color": "#ff00ff"},
    "encoding": {"x": {"field": "z", "type": "quantitative"}, "y": {"field": "x", "type": "quantitative"}}}
  ]
 }
]
}
